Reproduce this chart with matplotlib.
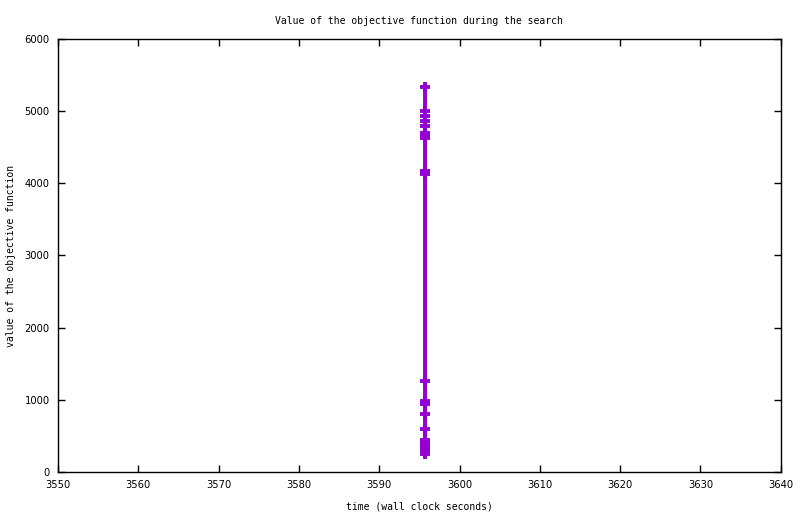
import numpy as np
import matplotlib.pyplot as plt

# search log: wall clock time vs objective value
times = [3595.7] * 22
values = [5335, 5000, 4930, 4865, 4800, 4700, 4660, 4630,
          4170, 4135, 1265, 980, 945, 800, 592,
          450, 415, 380, 340, 300, 265, 250]

xticks = np.arange(3550, 3641, 10)
yticks = np.arange(0, 6001, 1000)

fig = plt.figure(figsize=(8, 5.14), dpi=100)
ax = fig.add_axes([0.0725, 0.0817, 0.9035, 0.8425])

ax.plot(times, values, color='#9400d3', lw=2.8, marker='+', ms=7.2, mew=2.8)

ax.set_xlim(3550, 3640)
ax.set_ylim(0, 6000)
ax.set_xticks(xticks)
ax.set_yticks(yticks)
ax.tick_params(direction='in', length=5, width=1, top=True, right=True,
               labelsize=7.2, pad=6)
for s in ax.spines.values():
    s.set_linewidth(1)

mono = 'DejaVu Sans Mono'
ax.set_title('Value of the objective function during the search',
             family=mono, fontsize=7, pad=11)
ax.set_xlabel('time (wall clock seconds)', family=mono, fontsize=7, labelpad=8)
ax.set_ylabel('value of the objective function', family=mono, fontsize=7)
ax.yaxis.set_label_coords(-0.058, 0.5)

fig.savefig('out.png', dpi=100)
